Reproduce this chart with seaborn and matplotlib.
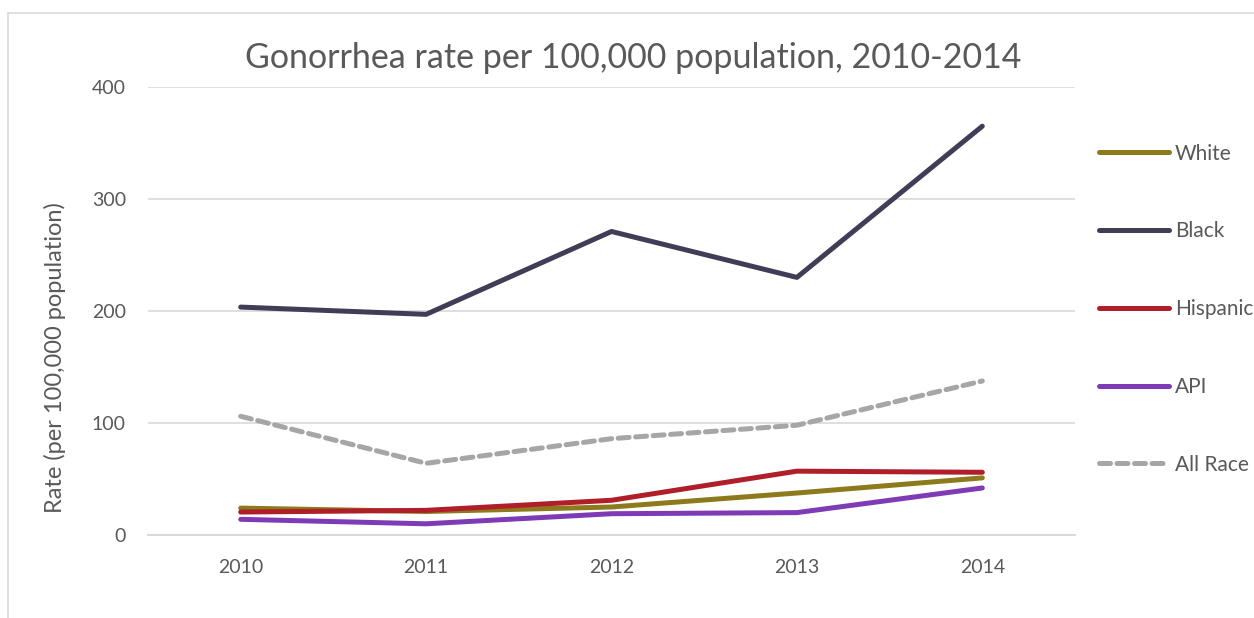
import matplotlib
matplotlib.use('Agg')
import matplotlib.pyplot as plt
import matplotlib.patches as mpatches
import seaborn as sns
import pandas as pd

years = ['2010', '2011', '2012', '2013', '2014']
races = ['White', 'Black', 'Hispanic', 'API', 'All Race']

white = [24, 21, 25, 37.5, 51]
black = [203.5, 197, 271, 230, 365]
hispanic = [20.5, 22, 31, 57, 56]
api = [14, 10, 19, 20, 42]
all_race = [106, 64, 86, 98, 137.5]

colors = ['#8C7A1C', '#423D57', '#B01E2A', '#7F3BB6', '#A6A6A6']

rows = []
for race, vals in zip(races, [white, black, hispanic, api, all_race]):
    for y, v in zip(years, vals):
        rows.append({'year': y, 'rate': v, 'race': race})
df = pd.DataFrame(rows)

sns.set_style('white')
plt.rcParams['font.family'] = ['Lato', 'DejaVu Sans']

fig = plt.figure(figsize=(12.54, 6.18), dpi=100)
ax = fig.add_axes([148/1254, 1-535/618, (1075-148)/1254, (535-87)/618])

sns.lineplot(data=df, x='year', y='rate', hue='race', style='race',
             hue_order=races, style_order=races,
             palette=dict(zip(races, colors)),
             dashes={'White': '', 'Black': '', 'Hispanic': '', 'API': '', 'All Race': (2.2, 1.3)},
             linewidth=3.6, sort=False, ax=ax, legend=False)
for ln in ax.lines:
    ln.set_solid_capstyle('round')
    ln.set_dash_capstyle('round')

ax.set_xlim(-0.5, 4.5)
ax.set_ylim(0, 400)
ax.set_yticks([0, 100, 200, 300, 400])
ax.yaxis.grid(True, color='#D9D9D9', linewidth=1.2)
ax.set_axisbelow(True)
for s in ['top', 'right', 'left']:
    ax.spines[s].set_visible(False)
ax.spines['bottom'].set_color('#D9D9D9')
ax.spines['bottom'].set_linewidth(1.5)
ax.tick_params(axis='both', length=0, labelsize=14, labelcolor='#595959')
ax.tick_params(axis='x', pad=17)
ax.tick_params(axis='y', pad=16)
ax.set_xlabel('')
ax.set_ylabel('')

# title and y label sit relative to the whole chart area, not the axes
fig.text(633/1254, 1-58/618, 'Gonorrhea rate per 100,000 population, 2010-2014',
         fontsize=24.5, color='#595959', ha='center', va='center')
fig.text(55/1254, 1-358/618, 'Rate (per 100,000 population)', rotation=90,
         fontsize=17, color='#595959', ha='center', va='center')

handles = [plt.Line2D([], [], color=c, linewidth=3.6,
                      linestyle=(0, (2.2, 1.3)) if r == 'All Race' else '-',
                      solid_capstyle='round', dash_capstyle='round')
           for r, c in zip(races, colors)]
leg = fig.legend(handles, races, loc='upper left', bbox_to_anchor=(1080/1254, 1-125/618),
                 frameon=False, fontsize=15, labelcolor='#595959',
                 handlelength=3.35, handletextpad=0.3, labelspacing=2.77)

fig.patches.append(mpatches.Rectangle((8/1254, -0.1), 1.2, 1-13/618+0.1,
                                      transform=fig.transFigure, fill=False,
                                      edgecolor='#D9D9D9', linewidth=1.2))

plt.savefig('out.png', dpi=100)
